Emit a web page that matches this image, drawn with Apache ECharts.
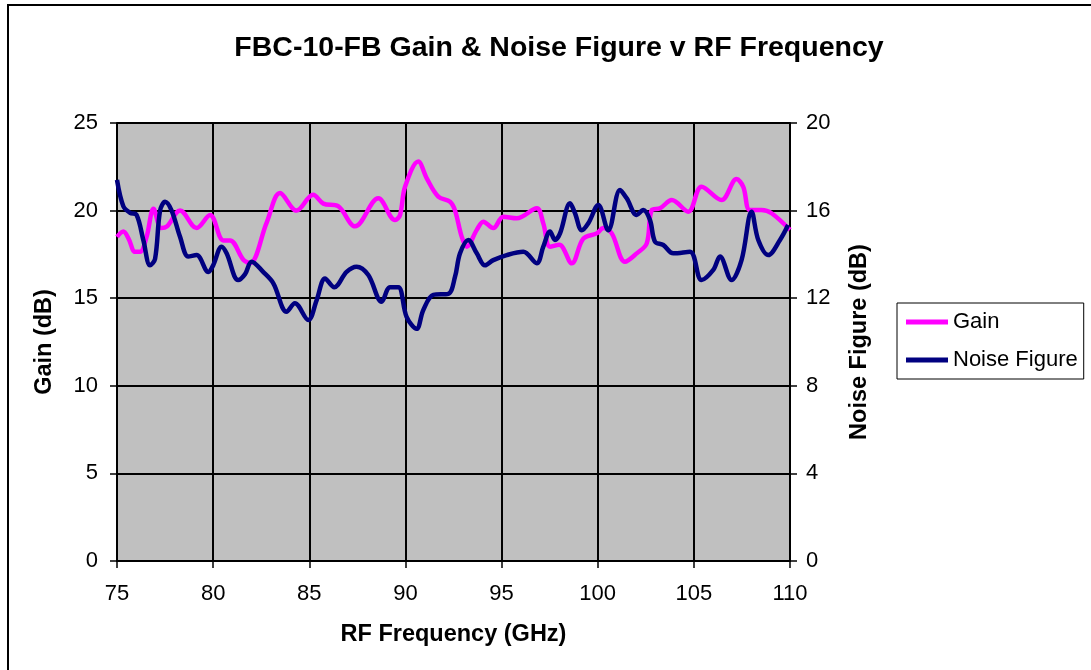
<!DOCTYPE html>
<html>
<head>
<meta charset="UTF-8"/>
<title>FBC-10-FB Gain & Noise Figure</title>
<script src="https://cdn.jsdelivr.net/npm/echarts@6/dist/echarts.min.js"></script>
<style>
html,body{margin:0;padding:0;background:#fff;}
#chart{width:1091px;height:670px;}
</style>
</head>
<body>
<div id="chart"></div>
<script>
// gain trace (GHz, dB)
var gainFreq = [75.0, 75.33, 75.6, 75.94, 76.2, 76.54, 76.9, 77.3, 77.6, 78.28, 79.14, 79.84, 80.53, 80.88,
  81.57, 81.92, 82.78, 83.48, 84.34, 85.2, 85.73, 86.5, 87.38, 88.59, 89.46, 89.72, 89.98, 90.67, 91.11,
  91.71, 92.32, 92.58, 92.93, 93.19, 93.71, 94.05, 94.57, 95.09, 95.79, 96.83, 97.17, 97.52, 98.0, 98.65,
  99.25, 99.95, 100.29, 100.73, 101.42, 102.03, 102.55, 102.81, 103.24, 103.85, 104.71, 105.4, 106.44,
  107.22, 107.57, 107.91, 108.52, 109.04, 110.0];
var gainDb = [18.5, 18.8, 18.4, 17.65, 17.65, 18.5, 20.1, 19.0, 19.1, 20.0, 19.0, 19.75, 18.3, 18.3,
  17.2, 17.0, 19.3, 21.0, 20.0, 20.9, 20.4, 20.25, 19.1, 20.7, 19.46, 19.75, 21.36, 22.8, 21.84,
  20.8, 20.5, 20.0, 18.5, 17.94, 18.9, 19.37, 19.0, 19.65, 19.56, 20.13, 19.27, 17.94, 18.05, 16.99,
  18.4, 18.7, 19.0, 18.7, 17.08, 17.56, 18.13, 20.03, 20.13, 20.6, 19.94, 21.36, 20.6,
  21.8, 21.36, 20.03, 20.03, 19.85, 18.9];

// noise figure trace (GHz, dB)
var nfFreq = [75.0, 75.33, 75.68, 76.02, 76.37, 76.72, 76.98, 77.24, 77.5, 77.84, 78.28, 78.71, 79.14,
  79.75, 80.0, 80.44, 80.7, 81.3, 81.66, 82.0, 82.6, 83.13, 83.82, 84.25, 84.95, 85.38, 85.82, 86.3,
  86.94, 87.46, 88.07, 88.76, 89.2, 89.63, 90.06, 90.58, 90.93, 91.45, 92.23, 92.58, 92.84, 93.27,
  93.71, 94.14, 94.57, 95.27, 96.13, 96.83, 97.17, 97.52, 97.78, 98.04, 98.56, 98.82, 99.17, 99.51,
  100.03, 100.55, 101.16, 101.51, 102.03, 102.37, 102.72, 102.98, 103.41, 103.93, 104.8, 105.4,
  106.01, 106.36, 106.96, 107.48, 108.0, 108.35, 108.87, 109.48, 109.9];
var nfDb = [17.4, 16.2, 15.9, 15.8, 14.65, 13.5, 13.8, 16.0, 16.4, 16.0, 14.8, 13.9, 13.97,
  13.2, 13.5, 14.35, 14.05, 12.83, 13.1, 13.67, 13.2, 12.68, 11.38, 11.77, 11.0, 11.9, 12.9, 12.5,
  13.2, 13.44, 13.06, 11.84, 12.5, 12.5, 11.15, 10.6, 11.46, 12.15, 12.2, 12.98, 14.05, 14.66,
  14.05, 13.5, 13.74, 13.97, 14.12, 13.6, 14.35, 15.04, 14.66, 14.96, 16.33, 15.88, 15.1, 15.42,
  16.26, 15.1, 16.94, 16.56, 15.8, 16.03, 15.57, 14.58, 14.43, 14.05, 14.12, 12.83,
  13.29, 13.9, 12.83, 13.74, 15.95, 14.66, 13.97, 14.66, 15.34];

var xTicks = [75, 80, 85, 90, 95, 100, 105, 110];

function pairs(xs, ys) {
  var out = [];
  for (var i = 0; i < xs.length; i++) out.push([xs[i], ys[i]]);
  return out;
}

var font = 'Liberation Sans, Arial, sans-serif';
var chart = echarts.init(document.getElementById('chart'));

var option = {
  animation: false,
  backgroundColor: '#fff',
  graphic: [{
    type: 'rect',
    shape: { x: 8, y: 5, width: 1100, height: 700 },
    style: { fill: 'none', stroke: '#000', lineWidth: 2 }
  }],
  title: {
    text: 'FBC-10-FB Gain & Noise Figure v RF Frequency',
    left: 554, top: 29, textAlign: 'center',
    textStyle: { fontFamily: font, fontSize: 28.5, fontWeight: 'bold', color: '#000' }
  },
  legend: {
    orient: 'vertical',
    left: 897, top: 303,
    padding: [8, 6, 8, 9],
    itemGap: 16,
    itemWidth: 42, itemHeight: 5,
    icon: 'rect',
    borderColor: '#000', borderWidth: 1,
    textStyle: { fontFamily: font, fontSize: 22, color: '#000' },
    data: ['Gain', 'Noise Figure']
  },
  grid: {
    left: 117, top: 123, right: 301, bottom: 109,
    show: true, backgroundColor: '#c0c0c0', borderColor: '#000', borderWidth: 1
  },
  xAxis: {
    type: 'value', min: 75, max: 110, interval: 5,
    name: 'RF Frequency (GHz)', nameLocation: 'middle', nameGap: 62,
    nameTextStyle: { fontFamily: font, fontSize: 23.5, fontWeight: 'bold', color: '#000' },
    axisLine: { lineStyle: { color: '#000', width: 2 } },
    axisTick: { show: true, length: 7, lineStyle: { color: '#000', width: 1.5 } },
    axisLabel: {
      fontFamily: font, fontSize: 22, color: '#000', margin: 22,
      formatter: function (v) { return xTicks.indexOf(v) >= 0 ? String(v) : ''; }
    },
    splitLine: { show: true, lineStyle: { color: '#000', width: 2 } }
  },
  yAxis: [{
    type: 'value', min: 0, max: 25, interval: 5, position: 'left',
    name: 'Gain (dB)', nameLocation: 'middle', nameGap: 60, nameRotate: 90,
    nameTextStyle: { fontFamily: font, fontSize: 23.5, fontWeight: 'bold', color: '#000' },
    axisLine: { show: true, lineStyle: { color: '#000', width: 2 } },
    axisTick: { show: true, length: 7, lineStyle: { color: '#000', width: 1.5 } },
    axisLabel: { fontFamily: font, fontSize: 22, color: '#000', margin: 19 },
    splitLine: { show: true, lineStyle: { color: '#000', width: 2 } }
  }, {
    type: 'value', min: 0, max: 20, interval: 4, position: 'right',
    name: 'Noise Figure (dB)', nameLocation: 'middle', nameGap: 58, nameRotate: 90,
    nameTextStyle: { fontFamily: font, fontSize: 23.5, fontWeight: 'bold', color: '#000' },
    axisLine: { show: true, lineStyle: { color: '#000', width: 2 } },
    axisTick: { show: true, length: 7, lineStyle: { color: '#000', width: 1.5 } },
    axisLabel: { fontFamily: font, fontSize: 22, color: '#000', margin: 16 },
    splitLine: { show: false }
  }],
  series: [{
    name: 'Gain', type: 'line', yAxisIndex: 0,
    data: pairs(gainFreq, gainDb),
    smooth: 0.35, showSymbol: false,
    itemStyle: { color: '#ff00ff' },
    lineStyle: { color: '#ff00ff', width: 4.5 }
  }, {
    name: 'Noise Figure', type: 'line', yAxisIndex: 1,
    data: pairs(nfFreq, nfDb),
    smooth: 0.35, showSymbol: false,
    itemStyle: { color: '#000080' },
    lineStyle: { color: '#000080', width: 4.5 }
  }]
};

chart.setOption(option);
</script>
</body>
</html>
